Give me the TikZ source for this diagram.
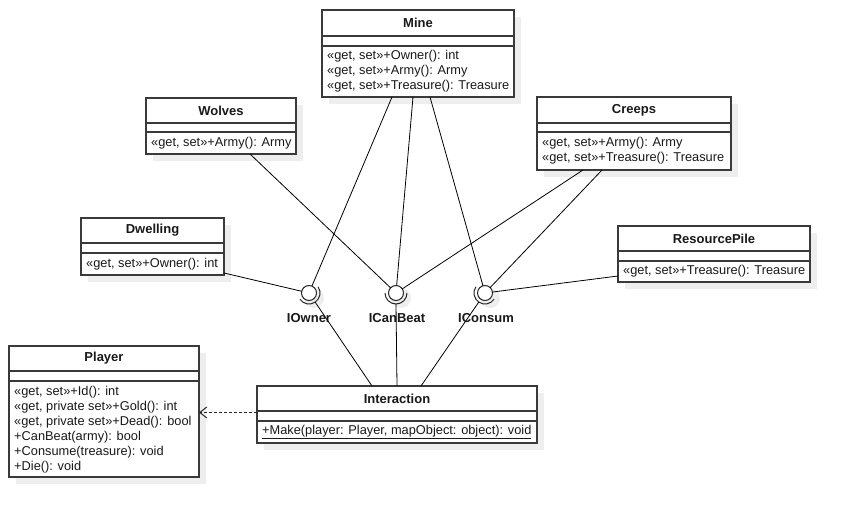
\documentclass[tikz,border=0pt]{standalone}
\usepackage{fontspec}
\setmainfont{Liberation Sans}
\usetikzlibrary{arrows.meta,calc}
\definecolor{shadowc}{HTML}{EEEEEE}
\definecolor{boxc}{HTML}{3A3A3A}
\tikzset{
  clsbox/.style={draw=boxc, line width=1.2pt, fill=white, inner sep=0pt, outer sep=0pt},
  sepline/.style={draw=boxc, line width=1.2pt},
  ctitle/.style={font=\fontsize{13}{15}\selectfont\bfseries, inner sep=0pt, text=black!90},
  attr/.style={font=\fontsize{12.8}{15}\selectfont, anchor=west, inner sep=0pt, text=black!90},
  ball/.style={circle, draw=black!85, line width=1pt, fill=white, minimum size=15pt, inner sep=0pt, outer sep=0pt},
  socket/.style={draw=black!85, line width=1pt},
  ilabel/.style={font=\fontsize{13}{15}\selectfont\bfseries, inner sep=0pt, text=black!90},
  conn/.style={draw=black, line width=0.8pt},
  depend/.style={draw=black!85, line width=1pt, dash pattern=on 3pt off 2pt, -{Straight Barb[length=7pt,width=11pt]}}
}
% #1 name, #2 left, #3 top, #4 right, #5 bottom, #6 sep1, #7 sep2, #8 title
\newcommand{\umlcls}[8]{%
  \fill[shadowc] (#2+7,-#3-7) rectangle (#4+7,-#5-7);
  \node[clsbox, minimum width={(#4-#2)*1pt}, minimum height={(#5-#3)*1pt}] (#1) at ({(#2+#4)/2},{-(#3+#5)/2}) {};
  \node[ctitle] (#1title) at ({(#2+#4)/2},{-(#3+#6)/2}) {#8};
  \draw[sepline] (#2,-#6) -- (#4,-#6);
  \draw[sepline] (#2,-#7) -- (#4,-#7);
}
\begin{document}
\begin{tikzpicture}[x=1pt,y=1pt]
\useasboundingbox[fill=white] (0,0) rectangle (850,-518);

% shadows of interfaces
\foreach \cx in {309,396,485}{
  \fill[shadowc] (\cx+5,-298) circle (10);
}

% interfaces
\node[ball] (iown) at (309,-293) {};
\node[ball] (ican) at (396,-293) {};
\node[ball] (icons) at (485,-293) {};
\draw[socket] ($(iown)+(-146:11)$) arc[start angle=-146, end angle=34, radius=11];
\draw[socket] ($(ican)+(-180:11)$) arc[start angle=-180, end angle=0, radius=11];
\draw[socket] ($(icons)+(-214.5:11)$) arc[start angle=-214.5, end angle=-34.5, radius=11];
\coordinate (iowns) at ($(iown)+(-56:11)$);
\coordinate (icans) at ($(ican)+(-90:11)$);
\coordinate (iconss) at ($(icons)+(-124.5:11)$);

% classes
\umlcls{mine}{322}{10}{514}{97}{36}{46}{Mine}
\node[attr] (mine1) at (327,-56) {«get, set»+Owner(): int};
\node[attr] (mine2) at (327,-71) {«get, set»+Army(): Army};
\node[attr] (mine3) at (327,-86) {«get, set»+Treasure(): Treasure};

\umlcls{wolves}{146}{98}{296}{154}{123}{132}{Wolves}
\node[attr] (wolves1) at (151,-143) {«get, set»+Army(): Army};

\umlcls{creeps}{537}{97}{731}{170}{123}{132}{Creeps}
\node[attr] (creeps1) at (542,-143) {«get, set»+Army(): Army};
\node[attr] (creeps2) at (542,-158) {«get, set»+Treasure(): Treasure};

\umlcls{dwell}{81}{218}{224}{275}{243}{253}{Dwelling}
\node[attr] (dwell1) at (86,-264) {«get, set»+Owner(): int};

\umlcls{rp}{618}{226}{810}{282}{251}{261}{ResourcePile}
\node[attr] (rp1) at (623,-271) {«get, set»+Treasure(): Treasure};

\umlcls{player}{9}{346}{199}{477}{371}{381}{Player}
\node[attr] (pl1) at (14,-392) {«get, set»+Id(): int};
\node[attr] (pl2) at (14,-407) {«get, private set»+Gold(): int};
\node[attr] (pl3) at (14,-422) {«get, private set»+Dead(): bool};
\node[attr] (pl4) at (14,-437) {+CanBeat(army): bool};
\node[attr] (pl5) at (14,-452) {+Consume(treasure): void};
\node[attr] (pl6) at (14,-467) {+Die(): void};

\umlcls{inter}{257}{386}{537}{443}{411}{421}{Interaction}
\node[attr] (inter1) at (262,-432) {\underline{+Make(player: Player, mapObject: object): void}};

% provider connectors
\draw[conn] ($(dwell.south east)+(0,2)$) -- (iown);
\draw[conn] ($(wolves.south west)+(104,0)$) -- (ican);
\draw[conn] ($(mine.south west)+(70,0)$) -- (iown);
\draw[conn] ($(mine.south west)+(91,0)$) -- (ican);
\draw[conn] ($(mine.south west)+(108,0)$) -- (icons);
\draw[conn] ($(creeps.south west)+(46,0)$) -- (ican);
\draw[conn] ($(creeps.south west)+(65,0)$) -- (icons);
\draw[conn] ($(rp.south west)+(0,6)$) -- (icons);

% requirer connectors
\draw[conn] ($(inter.north west)+(115,0)$) -- (iowns);
\draw[conn] ($(inter.north west)+(140,0)$) -- (icans);
\draw[conn] ($(inter.north west)+(164,0)$) -- (iconss);

% interface labels
\node[ilabel] (lown) at (309,-318) {IOwner};
\node[ilabel] (lcan) at (397,-318) {ICanBeat};
\node[ilabel] (lcons) at (486,-318) {IConsum};

% dependency
\draw[depend] ($(inter.west)+(0,2)$) -- ($(player.east |- inter.west)+(0,2)$);
\end{tikzpicture}
\end{document}
